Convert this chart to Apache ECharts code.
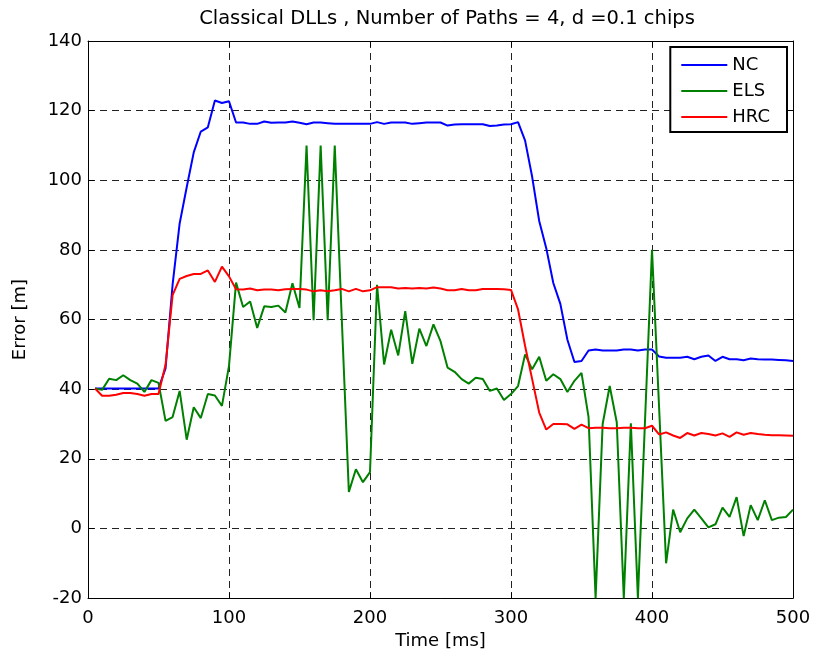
<!DOCTYPE html>
<html>
<head>
<meta charset="utf-8">
<script src="https://cdn.jsdelivr.net/npm/echarts@6/dist/echarts.min.js"></script>
<style>
  html, body { margin: 0; padding: 0; background: #fff; }
  #chart { width: 815px; height: 655px; }
</style>
</head>
<body>
<div id="chart"></div>
<script>
// time axis [ms]
var time = [5, 10, 15, 20, 25, 30, 35, 40, 45, 50,
  55, 60, 65, 70, 75, 80, 85, 90, 95, 100,
  105, 110, 115, 120, 125, 130, 135, 140, 145, 150,
  155, 160, 165, 170, 175, 180, 185, 190, 195, 200,
  205, 210, 215, 220, 225, 230, 235, 240, 245, 250,
  255, 260, 265, 270, 275, 280, 285, 290, 295, 300,
  305, 310, 315, 320, 325, 330, 335, 340, 345, 350,
  355, 360, 365, 370, 375, 380, 385, 390, 395, 400,
  405, 410, 415, 420, 425, 430, 435, 440, 445, 450,
  455, 460, 465, 470, 475, 480, 485, 490, 495, 500];

var nc = [40.2, 40.2, 40.2, 40.2, 40.2, 40.2, 40.2, 40.2, 40.2, 40.2,
  46, 70, 87.6, 98, 108, 114, 115.2, 122.9, 122.2, 122.7,
  116.6, 116.6, 116.2, 116.2, 116.9, 116.5, 116.6, 116.6, 116.9, 116.5,
  116.1, 116.6, 116.6, 116.4, 116.2, 116.2, 116.2, 116.2, 116.2, 116.2,
  116.7, 116.2, 116.6, 116.6, 116.6, 116.2, 116.4, 116.6, 116.6, 116.6,
  115.7, 116.0, 116.1, 116.1, 116.1, 116.1, 115.6, 115.7, 116.0, 116.1,
  116.7, 111.4, 101, 88.3, 80.5, 70.5, 64.5, 54.2, 47.8, 48.1,
  51.1, 51.4, 51.1, 51.1, 51.1, 51.4, 51.4, 51.1, 51.4, 51.4,
  49.4, 49.0, 49.0, 49.0, 49.3, 48.6, 49.3, 49.7, 48.1, 49.3,
  48.6, 48.6, 48.3, 48.8, 48.6, 48.5, 48.5, 48.4, 48.3, 48.1];

var els = [40.2, 39.8, 43.0, 42.6, 44.0, 42.6, 41.6, 39.2, 42.6, 41.8,
  30.9, 32.0, 39.5, 25.5, 34.8, 31.7, 38.6, 38.2, 35.2, 46.7,
  70.6, 63.6, 65.2, 57.6, 63.8, 63.6, 64.0, 62.0, 70.4, 63.3,
  110, 59.8, 110, 59.8, 110, 60, 10.5, 17.0, 13.3, 16.2,
  70, 47.1, 57.1, 49.7, 62.4, 47.3, 57.4, 52.4, 58.6, 53.8,
  46.2, 45.0, 42.9, 41.6, 43.3, 42.9, 39.5, 40.2, 36.9, 38.6,
  40.9, 50.0, 45.7, 49.3, 42.4, 44.3, 42.9, 39.2, 42.4, 44.7,
  32.0, -20, 30, 40.9, 30.5, -20, 30.2, -20, 30.5, 80,
  35, -10, 5.4, -1.1, 2.9, 5.4, 2.9, 0.3, 1.2, 6.0,
  3.3, 9.0, -2.2, 6.7, 2.4, 8.1, 2.4, 3.1, 3.3, 5.4];

var hrc = [40.2, 38.1, 38.1, 38.4, 38.9, 38.9, 38.6, 38.1, 38.6, 38.6,
  47, 67, 71.7, 72.5, 73.1, 73.1, 74.1, 70.8, 75.2, 72.4,
  68.7, 68.6, 68.9, 68.4, 68.6, 68.6, 68.4, 68.7, 68.8, 68.8,
  68.6, 68.1, 68.4, 68.1, 68.4, 68.8, 68.1, 68.8, 68.1, 68.4,
  69.3, 69.3, 69.3, 68.9, 69.05, 68.9, 69.05, 68.9, 69.2, 68.9,
  68.4, 68.4, 68.8, 68.4, 68.4, 68.8, 68.8, 68.8, 68.7, 68.5,
  62.9, 52.4, 42.9, 33.3, 28.4, 30, 30, 29.9, 28.6, 29.8,
  28.8, 28.9, 28.9, 28.8, 28.8, 28.9, 28.9, 28.8, 28.8, 29.5,
  27.0, 27.6, 26.7, 26.0, 27.4, 26.7, 27.4, 27.1, 26.7, 27.3,
  26.3, 27.6, 26.9, 27.4, 27.1, 26.9, 26.8, 26.8, 26.7, 26.6];

var names = ["NC", "ELS", "HRC"];
var colors = ["#0000ff", "#008000", "#ff0000"];
var values = [nc, els, hrc];

var font = "DejaVu Sans";
var myChart = echarts.init(document.getElementById("chart"));

function pairs(arr) {
  return time.map(function (t, i) {
    return [t, arr[i]];
  });
}

var seriesList = [];
for (var k = 0; k < names.length; k++) {
  seriesList.push({
    type: "line",
    name: names[k],
    data: pairs(values[k]),
    showSymbol: false,
    color: colors[k],
    lineStyle: { width: 2 },
    clip: true,
  });
}

var gridLine = {
  show: true,
  lineStyle: { color: "#222", width: 1, type: [7, 5] },
};

var option = {
  animation: false,
  title: {
    text: "Classical DLLs , Number of Paths = 4, d =0.1 chips",
    left: 442,
    textAlign: "center",
    top: 4,
    textStyle: { fontFamily: font, fontSize: 19.5, fontWeight: "normal", color: "#000" },
  },
  grid: { left: 88, right: 22, top: 41, bottom: 56, containLabel: false },
  legend: {
    data: names,
    orient: "vertical",
    right: 28,
    top: 47,
    padding: [9, 17, 6, 11],
    itemGap: 8,
    itemWidth: 46,
    itemHeight: 2,
    icon: "rect",
    backgroundColor: "#fff",
    borderColor: "#000",
    borderWidth: 2,
    borderRadius: 0,
    textStyle: { fontFamily: font, fontSize: 18, color: "#000" },
  },
  xAxis: [
    {
      type: "value",
      min: 0,
      max: 500,
      interval: 100,
      name: "Time [ms]",
      nameLocation: "middle",
      nameGap: 28,
      nameTextStyle: { fontFamily: font, fontSize: 18, color: "#000" },
      axisLine: { show: true, onZero: false, lineStyle: { color: "#000", width: 1 } },
      axisTick: { show: true, inside: true, length: 6, lineStyle: { color: "#000" } },
      axisLabel: { fontFamily: font, fontSize: 18, color: "#000", margin: 11 },
      splitLine: gridLine,
    },
    {
      type: "value",
      position: "top",
      min: 0,
      max: 500,
      interval: 100,
      axisLine: { show: true, onZero: false, lineStyle: { color: "#000", width: 1 } },
      axisTick: { show: true, inside: true, length: 6, lineStyle: { color: "#000" } },
      axisLabel: { show: false },
      splitLine: { show: false },
    },
  ],
  yAxis: [
    {
      type: "value",
      min: -20,
      max: 140,
      interval: 20,
      name: "Error [m]",
      nameLocation: "middle",
      nameGap: 59,
      nameTextStyle: { fontFamily: font, fontSize: 18, color: "#000" },
      axisLine: { show: true, onZero: false, lineStyle: { color: "#000", width: 1 } },
      axisTick: { show: true, inside: true, length: 6, lineStyle: { color: "#000" } },
      axisLabel: { fontFamily: font, fontSize: 18, color: "#000", margin: 6 },
      splitLine: gridLine,
    },
    {
      type: "value",
      position: "right",
      min: -20,
      max: 140,
      interval: 20,
      axisLine: { show: true, onZero: false, lineStyle: { color: "#000", width: 1 } },
      axisTick: { show: true, inside: true, length: 6, lineStyle: { color: "#000" } },
      axisLabel: { show: false },
      splitLine: { show: false },
    },
  ],
  series: seriesList,
};

myChart.setOption(option);
</script>
</body>
</html>
